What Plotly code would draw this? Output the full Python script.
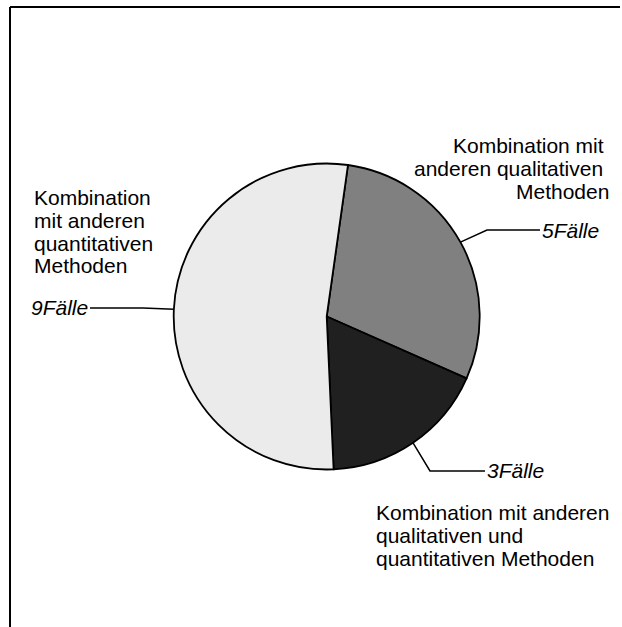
import math
import plotly.graph_objects as go

# ---- data ----
categories = [
    "Kombination mit anderen qualitativen Methoden",
    "Kombination mit anderen qualitativen und quantitativen Methoden",
    "Kombination mit anderen quantitativen Methoden",
]
values = [5, 3, 9]
value_labels = ["5Fälle", "3Fälle", "9Fälle"]
label_lines = [
    ["Kombination mit\u00a0", "anderen qualitativen\u00a0", "Methoden"],
    ["Kombination mit anderen", "qualitativen und", "quantitativen Methoden"],
    ["Kombination", "mit anderen", "quantitativen", "Methoden"],
]
colors = ["#808080", "#202020", "#ebebeb"]
start_angle = 8  # degrees clockwise from 12 o'clock

# ---- layout constants (pixels) ----
W, H = 622, 627
CX, CY, R = 326.7, 316.5, 153.0
FS = 21
FONT = "Liberation Sans, Arial, sans-serif"

# category text blocks: (x, anchor, first baseline)
block_pos = [(611, "right", 153), (374, "left", 520), (32, "left", 205)]
LINE_H = 22.7
# value labels: (x, anchor, baseline)
value_pos = [(540, "left", 238), (485, "left", 478), (90, "right", 315)]
# leader elbows: (elbow point, end point)
leaders = [((487, 230), (540, 230)), ((430, 471), (485, 471)), ((143, 308), (90, 308))]


def px(x):
    return x / W


def py(y):
    return 1 - y / H


fig = go.Figure(
    go.Pie(
        labels=categories,
        values=values,
        sort=False,
        direction="clockwise",
        rotation=start_angle,
        marker=dict(colors=colors, line=dict(color="black", width=1.8)),
        textinfo="none",
        hoverinfo="label+value",
        showlegend=False,
        domain=dict(x=[px(CX - R), px(CX + R)], y=[py(CY + R), py(CY - R)]),
    )
)

annotations = []
shapes = []
total = sum(values)
acc = 0
for i, v in enumerate(values):
    mid = math.radians(start_angle + (acc + v / 2) / total * 360)
    acc += v
    ax = CX + R * math.sin(mid)
    ay = CY - R * math.cos(mid)
    (ex, ey), (tx, ty) = leaders[i]
    shapes.append(dict(
        type="path", xref="paper", yref="paper",
        path=f"M {px(ax)},{py(ay)} L {px(ex)},{py(ey)} L {px(tx)},{py(ty)}",
        line=dict(color="black", width=1.5),
    ))
    vx, vanc, vb = value_pos[i]
    annotations.append(dict(
        x=px(vx), y=py(vb - 0.3465 * FS), xref="paper", yref="paper",
        xanchor=vanc, yanchor="middle", showarrow=False,
        text=f"<i>{value_labels[i]}</i>",
        font=dict(family=FONT, size=FS, color="black"),
    ))
    bx, banc, bb = block_pos[i]
    for k, line in enumerate(label_lines[i]):
        annotations.append(dict(
            x=px(bx), y=py(bb + k * LINE_H - 0.3465 * FS), xref="paper", yref="paper",
            xanchor=banc, yanchor="middle", showarrow=False, text=line,
            font=dict(family=FONT, size=FS, color="black"),
        ))

# frame lines (top and left)
shapes.append(dict(type="line", xref="paper", yref="paper", x0=px(10), y0=py(7), x1=px(620), y1=py(7),
                   line=dict(color="black", width=2)))
shapes.append(dict(type="line", xref="paper", yref="paper", x0=px(10), y0=py(7), x1=px(10), y1=py(627),
                   line=dict(color="black", width=2)))

fig.update_layout(
    width=W, height=H,
    margin=dict(l=0, r=0, t=0, b=0),
    paper_bgcolor="white", plot_bgcolor="white",
    annotations=annotations, shapes=shapes,
)

fig.write_html(
    "out.html",
    config={"displayModeBar": False},
    post_script="document.body.style.margin='0';document.body.style.overflow='hidden';",
)
